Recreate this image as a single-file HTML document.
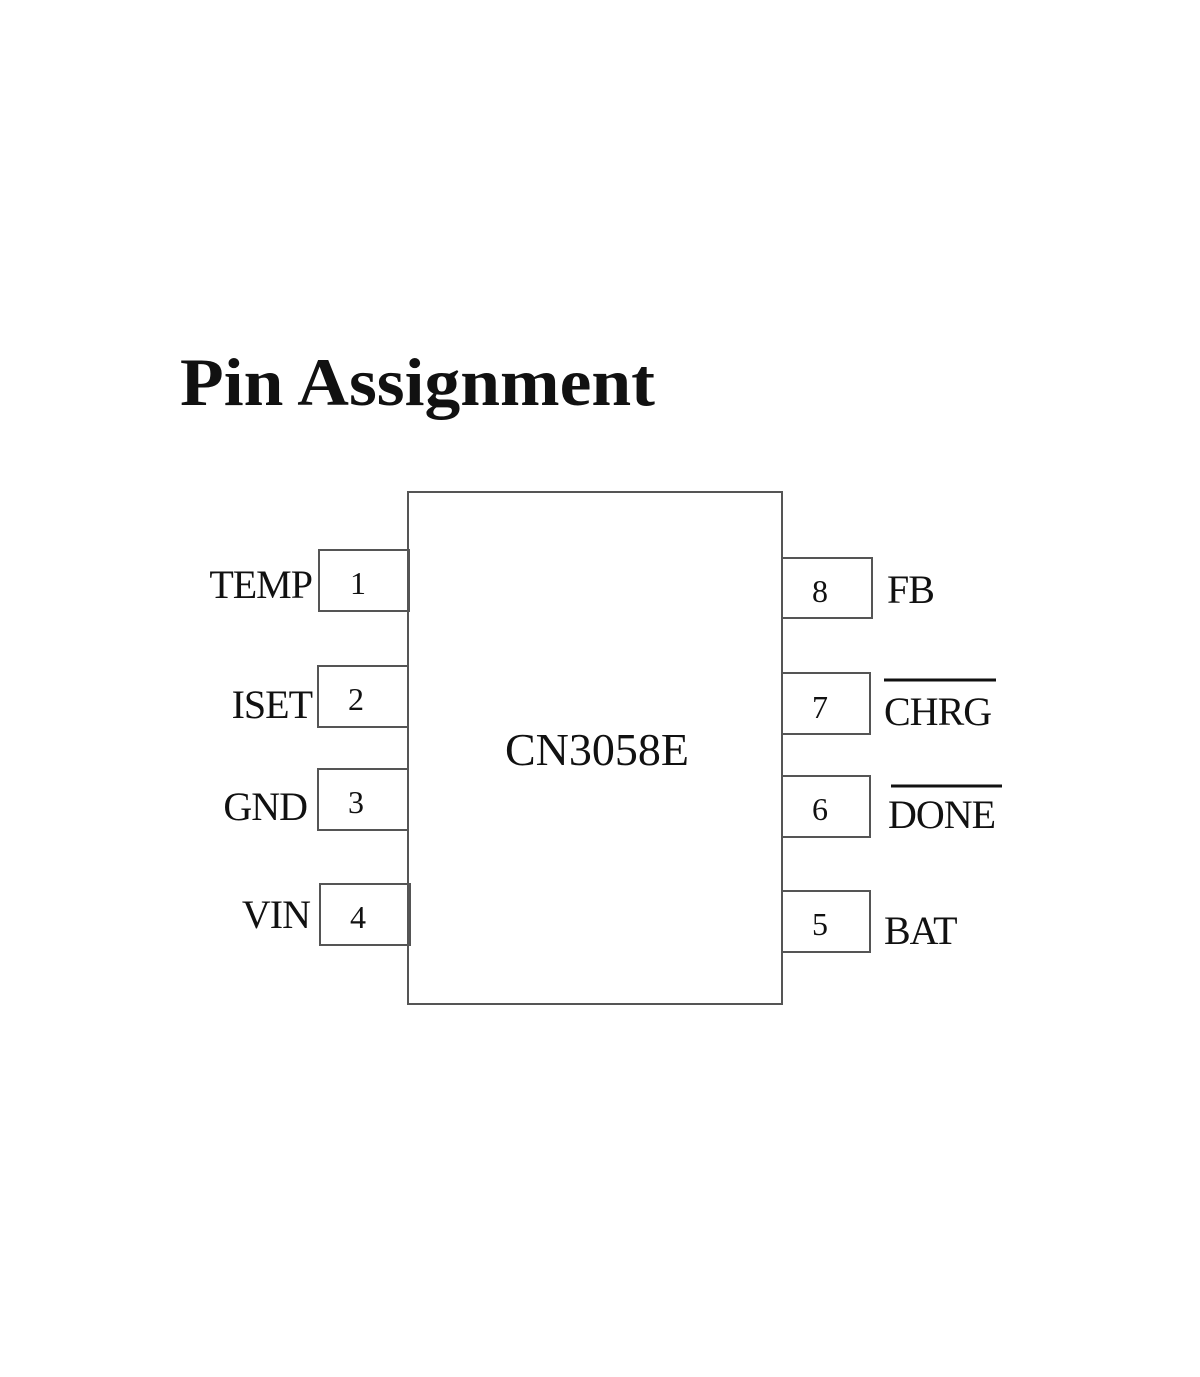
<!DOCTYPE html>
<html><head><style>
body{margin:0;background:#fff;}
</style></head><body>
<svg width="1200" height="1372" xmlns="http://www.w3.org/2000/svg" font-family="Liberation Serif, serif" fill="#111">
<rect width="1200" height="1372" fill="#fff"/>
<text x="180" y="405" font-size="68" font-weight="bold" textLength="475" lengthAdjust="spacingAndGlyphs">Pin Assignment</text>
<g fill="none" stroke="#555" stroke-width="2">
<rect x="408" y="492" width="374" height="512"/>
<rect x="319" y="550" width="90" height="61"/>
<rect x="318" y="666" width="90" height="61"/>
<rect x="318" y="769" width="90" height="61"/>
<rect x="320" y="884" width="90" height="61"/>
<rect x="782" y="558" width="90" height="60"/>
<rect x="782" y="673" width="88" height="61"/>
<rect x="782" y="776" width="88" height="61"/>
<rect x="782" y="891" width="88" height="61"/>
</g>
<g font-size="40" text-anchor="end" letter-spacing="-1">
<text x="312" y="598">TEMP</text>
<text x="312" y="718">ISET</text>
<text x="307" y="820">GND</text>
<text x="310" y="928">VIN</text>
</g>
<g font-size="32" text-anchor="middle">
<text x="358" y="594">1</text>
<text x="356" y="710">2</text>
<text x="356" y="813">3</text>
<text x="358" y="928">4</text>
<text x="820" y="602">8</text>
<text x="820" y="718">7</text>
<text x="820" y="820">6</text>
<text x="820" y="935">5</text>
</g>
<g font-size="40" letter-spacing="-1">
<text x="887" y="603">FB</text>
<text x="884" y="725">CHRG</text>
<text x="888" y="828">DONE</text>
<text x="884" y="944">BAT</text>
</g>
<line x1="884" y1="680" x2="996" y2="680" stroke="#111" stroke-width="3"/>
<line x1="891" y1="786" x2="1002" y2="786" stroke="#111" stroke-width="3"/>
<text x="597" y="765" font-size="46" text-anchor="middle">CN3058E</text>
</svg>
</body></html>
